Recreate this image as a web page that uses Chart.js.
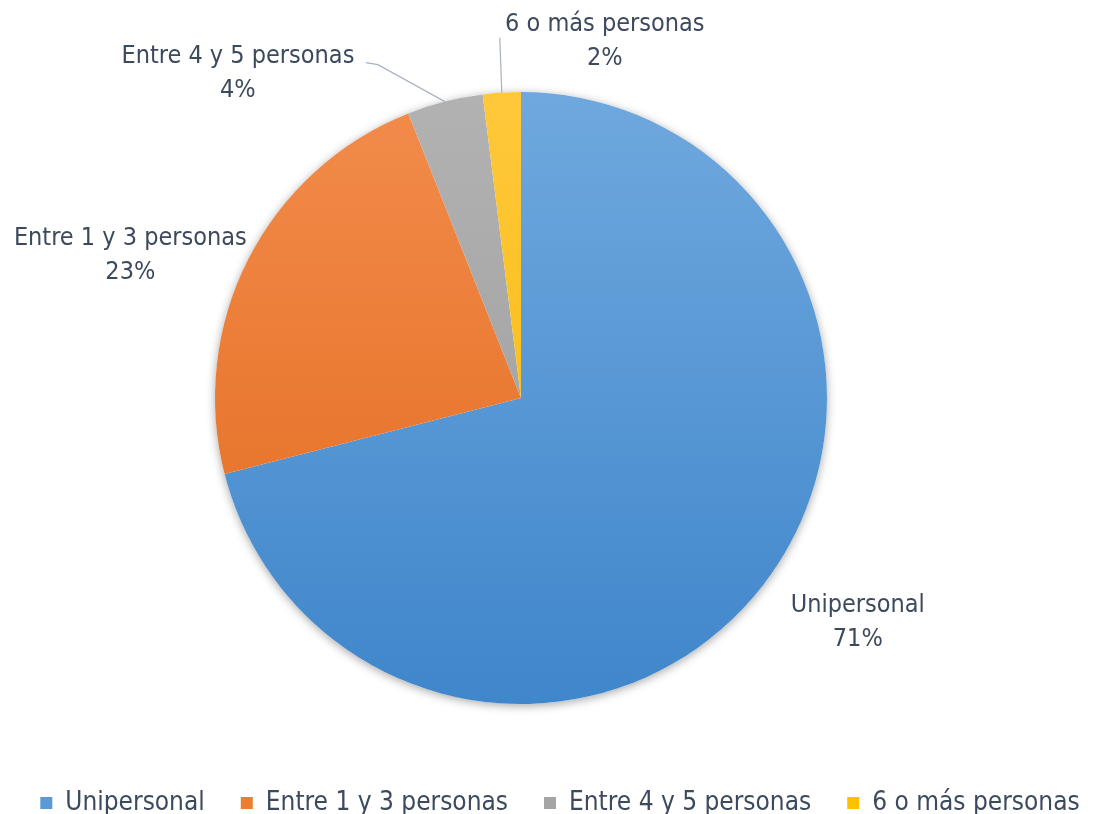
<!DOCTYPE html>
<html>
<head>
<meta charset="utf-8">
<script src="https://cdn.jsdelivr.net/npm/chart.js@4.4.1/dist/chart.umd.min.js"></script>
<style>
  html, body { margin: 0; padding: 0; background: #ffffff; }
  #wrap { width: 1118px; height: 814px; }
</style>
</head>
<body>
<div id="wrap"><canvas id="HogarCanvas"></canvas></div>
<script>
var categorias = ['Unipersonal', 'Entre 1 y 3 personas', 'Entre 4 y 5 personas', '6 o más personas'];
var porcentajes = [71, 23, 4, 2];
var etiquetas = ['71%', '23%', '4%', '2%'];

var colores = ['#5B9BD5', '#ED7D31', '#A5A5A5', '#FFC000'];
var coloresArriba = ['#6FA8DE', '#F28C4C', '#B2B2B2', '#FFC83C'];
var coloresAbajo = ['#3F86CB', '#E2691C', '#9A9A9A', '#F5B800'];

var fuente = "'Liberation Sans Narrow', 'DejaVu Sans Condensed', sans-serif";
var colorTexto = '#3D4A5D';

// where each label sits, relative to the outer edge of its slice (mid angle)
var desplazamientos = [[95, 37], [-118, -4], [-207, -28], [103, -51]];
// leader lines for the small slices: points relative to the slice edge
var guias = [null, null, [[-67, -37], [-79, -39]], [[-2, -55]]];

function degradado(context) {
    var i = context.dataIndex;
    var area = context.chart.chartArea;
    if (!area) return colores[i];
    var g = context.chart.ctx.createLinearGradient(0, area.top, 0, area.bottom);
    g.addColorStop(0, coloresArriba[i]);
    g.addColorStop(1, coloresAbajo[i]);
    return g;
}

var ajustePie = {
    id: 'ajustePie',
    afterLayout: function (chart) {
        var a = chart.chartArea;
        a.left = 215; a.right = 827; a.top = 92; a.bottom = 704;
        a.width = a.right - a.left;
        a.height = a.bottom - a.top;
    },
    beforeDatasetsDraw: function (chart) {
        var arc = chart.getDatasetMeta(0).data[0];
        if (!arc) return;
        var ctx = chart.ctx;
        ctx.save();
        ctx.shadowColor = 'rgba(0,0,0,0.35)';
        ctx.shadowBlur = 10;
        ctx.shadowOffsetX = 0;
        ctx.shadowOffsetY = 2;
        ctx.fillStyle = '#ffffff';
        ctx.beginPath();
        ctx.arc(arc.x, arc.y, arc.outerRadius, 0, Math.PI * 2);
        ctx.fill();
        ctx.restore();
    },
    afterDatasetsDraw: function (chart) {
        var ctx = chart.ctx;
        var arcs = chart.getDatasetMeta(0).data;
        ctx.save();
        ctx.font = '25px ' + fuente;
        ctx.fillStyle = colorTexto;
        ctx.textAlign = 'center';
        ctx.textBaseline = 'middle';
        arcs.forEach(function (arc, i) {
            var mid = (arc.startAngle + arc.endAngle) / 2;
            var ex = arc.x + Math.cos(mid) * arc.outerRadius;
            var ey = arc.y + Math.sin(mid) * arc.outerRadius;
            if (guias[i]) {
                ctx.strokeStyle = '#A9B3C0';
                ctx.lineWidth = 1.2;
                ctx.beginPath();
                ctx.moveTo(ex, ey);
                guias[i].forEach(function (p) { ctx.lineTo(ex + p[0], ey + p[1]); });
                ctx.stroke();
            }
            var lx = ex + desplazamientos[i][0];
            var ly = ey + desplazamientos[i][1];
            ctx.fillText(categorias[i], lx, ly - 17);
            ctx.fillText(etiquetas[i], lx, ly + 17);
        });
        ctx.restore();
    }
};

window.onload = function () {
    var HogarCtx = document.getElementById('HogarCanvas').getContext('2d');

    window.Hogar = new Chart(HogarCtx, {
        type: 'pie',
        data: {
            labels: categorias,
            datasets: [{
                data: porcentajes,
                backgroundColor: degradado,
                borderWidth: 0,
                clip: false
            }]
        },
        options: {
            responsive: true,
            maintainAspectRatio: false,
            animation: false,
            events: [],
            layout: {
                padding: { left: 2, right: 0, top: 0, bottom: -12 }
            },
            plugins: {
                tooltip: { enabled: false },
                legend: {
                    position: 'bottom',
                    labels: {
                        font: { family: fuente, size: 26 },
                        color: colorTexto,
                        boxWidth: 12,
                        boxHeight: 12,
                        padding: 36,
                        generateLabels: function (chart) {
                            return categorias.map(function (c, i) {
                                return {
                                    text: c,
                                    fillStyle: colores[i],
                                    strokeStyle: colores[i],
                                    fontColor: colorTexto,
                                    lineWidth: 0,
                                    hidden: false,
                                    index: i
                                };
                            });
                        }
                    }
                }
            }
        },
        plugins: [ajustePie]
    });
};
</script>
</body>
</html>
